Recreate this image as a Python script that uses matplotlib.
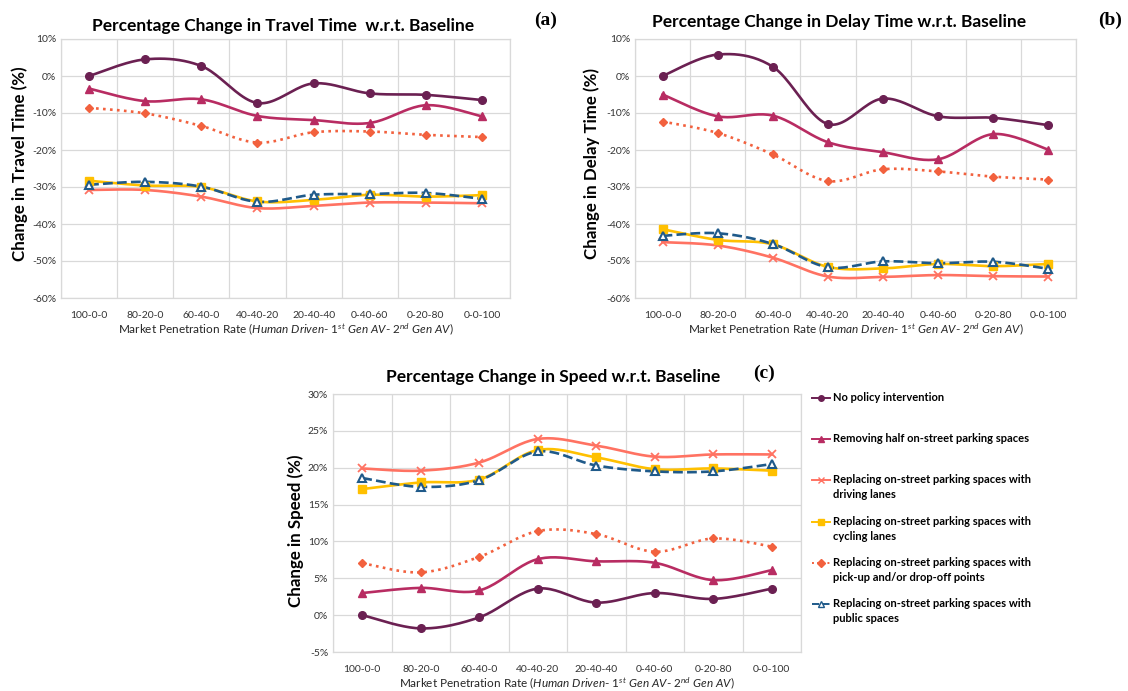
import numpy as np
import matplotlib
matplotlib.use("Agg")
import matplotlib.pyplot as plt
from matplotlib.lines import Line2D
from matplotlib.ticker import FuncFormatter, MultipleLocator

plt.rcParams['font.family'] = ['Lato', 'DejaVu Sans']
plt.rcParams['mathtext.fontset'] = 'custom'
plt.rcParams['mathtext.rm'] = 'Lato'
plt.rcParams['mathtext.it'] = 'Lato:italic'
plt.rcParams['mathtext.bf'] = 'Lato:bold'

categories = ["100-0-0", "80-20-0", "60-40-0", "40-40-20", "20-40-40", "0-40-60", "0-20-80", "0-0-100"]

series_names = [
    "No policy intervention",
    "Removing half on-street parking spaces",
    "Replacing on-street parking spaces with\ndriving lanes",
    "Replacing on-street parking spaces with\ncycling lanes",
    "Replacing on-street parking spaces with\npick-up and/or drop-off points",
    "Replacing on-street parking spaces with\npublic spaces",
]

# (a) travel time change, %
travel_none = [0.0, 4.5, 2.7, -7.3, -2.0, -4.7, -5.1, -6.5]
travel_half = [-3.4, -6.8, -6.3, -10.8, -11.9, -12.7, -7.9, -10.9]
travel_driving = [-30.8, -30.8, -32.6, -35.7, -35.1, -34.2, -34.2, -34.4]
travel_cycling = [-28.3, -29.6, -30.0, -33.9, -33.5, -32.1, -32.6, -32.2]
travel_pickup = [-8.6, -10.1, -13.5, -18.0, -15.2, -15.0, -15.9, -16.5]
travel_public = [-29.4, -28.6, -29.9, -34.0, -32.1, -31.9, -31.6, -33.2]

# (b) delay time change, %
delay_none = [0.0, 5.8, 2.5, -13.0, -6.1, -10.9, -11.3, -13.3]
delay_half = [-5.0, -10.9, -10.7, -17.9, -20.6, -22.5, -15.7, -19.9]
delay_driving = [-44.9, -45.8, -49.1, -54.2, -54.3, -53.8, -54.1, -54.2]
delay_cycling = [-41.4, -44.3, -45.5, -51.6, -52.0, -50.8, -51.4, -50.8]
delay_pickup = [-12.3, -15.4, -21.2, -28.4, -25.2, -25.8, -27.2, -28.0]
delay_public = [-43.2, -42.5, -45.4, -51.7, -50.1, -50.6, -50.2, -52.1]

# (c) speed change, %
speed_none = [0.0, -1.8, -0.3, 3.6, 1.7, 3.0, 2.2, 3.6]
speed_half = [3.0, 3.7, 3.35, 7.6, 7.3, 7.1, 4.75, 6.1]
speed_driving = [19.9, 19.6, 20.7, 23.9, 23.0, 21.5, 21.8, 21.8]
speed_cycling = [17.1, 18.0, 18.4, 22.4, 21.4, 19.8, 19.9, 19.6]
speed_pickup = [7.05, 5.8, 7.9, 11.4, 11.0, 8.6, 10.4, 9.3]
speed_public = [18.6, 17.4, 18.3, 22.2, 20.3, 19.5, 19.5, 20.5]

colors = ["#6B2052", "#B82C62", "#FF7262", "#FFC000", "#F2613E", "#1F5A8A"]
markers = ["o", "^", "x", "s", "D", "^"]
styles = ["-", "-", "-", "-", ":", "--"]
msizes = [5.5, 5.5, 5.5, 5.5, 4, 6]


def smooth(x, y, n=24):
    # Excel-like smoothed line (Bezier with 1/6 control points)
    pts = np.column_stack([x, y]).astype(float)
    p = np.vstack([pts[0], pts, pts[-1]])
    out = []
    t = np.linspace(0, 1, n)[:, None]
    for i in range(1, len(p) - 2):
        p0, p1, p2, p3 = p[i - 1], p[i], p[i + 1], p[i + 2]
        c1 = p1 + (p2 - p0) / 6.0
        c2 = p2 - (p3 - p1) / 6.0
        seg = ((1 - t) ** 3) * p1 + 3 * ((1 - t) ** 2) * t * c1 + 3 * (1 - t) * t ** 2 * c2 + t ** 3 * p2
        out.append(seg if i == 1 else seg[1:])
    out = np.vstack(out)
    return out[:, 0], out[:, 1]


def draw_panel(ax, data, ylim, ystep, title, tag, ylabel, ylab_xy, title_xy, tag_xy, fig):
    x = np.arange(len(categories))
    for k, vals in enumerate(data):
        sx, sy = smooth(x, vals)
        ax.plot(sx, sy, color=colors[k], linestyle=styles[k], lw=1.9, zorder=3)
        if k == 5:
            ax.plot(x, vals, linestyle="none", marker=markers[k], ms=msizes[k],
                    mfc="white", mec=colors[k], mew=1.5, zorder=4)
        elif markers[k] == "x":
            ax.plot(x, vals, linestyle="none", marker="x", ms=msizes[k],
                    color=colors[k], mew=1.3, zorder=4)
        else:
            ax.plot(x, vals, linestyle="none", marker=markers[k], ms=msizes[k],
                    color=colors[k], zorder=4)
    ax.set_xlim(-0.5, len(categories) - 0.5)
    ax.set_ylim(*ylim)
    ax.yaxis.set_major_locator(MultipleLocator(ystep))
    ax.yaxis.set_major_formatter(FuncFormatter(lambda v, p: f"{v:.0f}%"))
    ax.set_xticks(x)
    ax.set_xticklabels(categories)
    ax.set_xticks(np.arange(-0.5, len(categories)), minor=True)
    ax.grid(True, axis="y", which="major", color="#D9D9D9", lw=0.9)
    ax.grid(True, axis="x", which="minor", color="#D9D9D9", lw=0.9)
    ax.tick_params(axis="both", which="both", length=0, labelsize=7.5, colors="#333333")
    ax.tick_params(axis="x", pad=9)
    for s in ax.spines.values():
        s.set_color("#D9D9D9")
        s.set_linewidth(0.9)
    ax.set_ylabel(ylabel, fontsize=12.2, fontweight="bold")
    ax.yaxis.set_label_coords(*ylab_xy)
    ax.set_xlabel(r"Market Penetration Rate $\mathit{(Human\ Driven\text{-}\ 1^{st}\ Gen\ AV\text{-}\ 2^{nd}\ Gen\ AV)}$",
                  fontsize=8.5, color="#262626", labelpad=1)
    fig.text(title_xy[0], title_xy[1], title, fontsize=12.5, fontweight="bold", ha="center", va="center")
    fig.text(tag_xy[0], tag_xy[1], tag, fontsize=14, fontweight="bold", ha="center", va="center",
             family="Liberation Serif")


W, H = 1128, 691
fig = plt.figure(figsize=(W / 100, H / 100), dpi=100)

ax_a = fig.add_axes([61 / W, 1 - 298 / H, 449 / W, 259 / H])
ax_b = fig.add_axes([635 / W, 1 - 298 / H, 441 / W, 259 / H])
ax_c = fig.add_axes([333 / W, 1 - 652 / H, 468 / W, 258 / H])

draw_panel(ax_a, [travel_none, travel_half, travel_driving, travel_cycling, travel_pickup, travel_public],
           (-60, 10), 10, "Percentage Change in Travel Time  w.r.t. Baseline", "(a)",
           "Change in Travel Time (%)", (-0.074, 0.52), (283 / W, 1 - 26 / H), (546 / W, 1 - 20 / H), fig)
draw_panel(ax_b, [delay_none, delay_half, delay_driving, delay_cycling, delay_pickup, delay_public],
           (-60, 10), 10, "Percentage Change in Delay Time w.r.t. Baseline", "(b)",
           "Change in Delay Time (%)", (-0.079, 0.52), (839 / W, 1 - 22 / H), (1110 / W, 1 - 20 / H), fig)
draw_panel(ax_c, [speed_none, speed_half, speed_driving, speed_cycling, speed_pickup, speed_public],
           (-5, 30), 5, "Percentage Change in Speed w.r.t. Baseline", "(c)",
           "Change in Speed (%)", (-0.062, 0.47), (553 / W, 1 - 377 / H), (764 / W, 1 - 373 / H), fig)

# legend for panel (c), handle aligned to first text line
leg_y = [398, 439, 480, 522, 563, 604]
for k, name in enumerate(series_names):
    yy = 1 - leg_y[k] / H
    fig.add_artist(Line2D([812 / W, 830 / W], [yy, yy], color=colors[k], linestyle=styles[k], lw=1.4,
                          transform=fig.transFigure))
    mfc = "white" if k == 5 else colors[k]
    fig.add_artist(Line2D([821 / W], [yy], marker=markers[k], ms=4, color=colors[k], mfc=mfc,
                          mec=colors[k], linestyle="none", transform=fig.transFigure))
    fig.text(833 / W, yy + 6 / H, name, fontsize=8, fontweight="bold", ha="left", va="top",
             linespacing=1.45)

fig.savefig("out.png", dpi=100)
